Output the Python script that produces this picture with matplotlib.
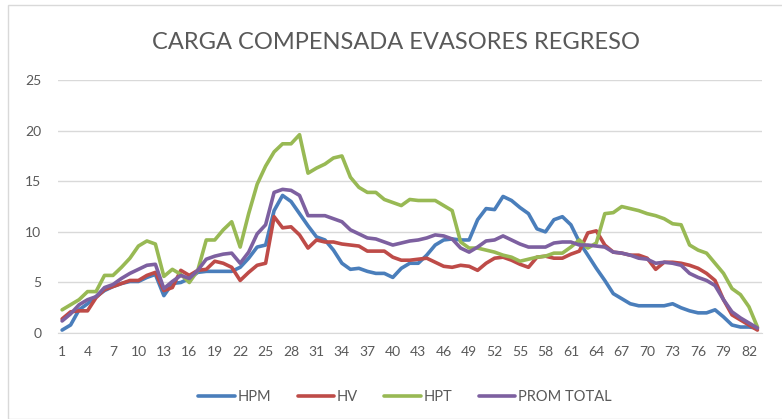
import numpy as np
import matplotlib
matplotlib.use("Agg")
import matplotlib.pyplot as plt
from matplotlib.patches import Rectangle

plt.rcParams['font.family'] = ['Lato', 'DejaVu Sans']

dias = list(range(1, 84))

hpm = [0.3, 0.8, 2.3, 2.9, 3.6, 4.2, 4.6, 4.9, 5.1, 5.1,
       5.5, 5.8, 3.7, 4.9, 5.0, 5.4, 6.0, 6.1, 6.1, 6.1,
       6.1, 6.5, 7.4, 8.5, 8.7, 12.1, 13.6, 13.0, 11.8, 10.6,
       9.5, 9.2, 8.2, 6.9, 6.3, 6.4, 6.1, 5.9, 5.9, 5.5,
       6.4, 6.9, 6.9, 7.7, 8.7, 9.2, 9.3, 9.2, 9.2, 11.2,
       12.3, 12.2, 13.5, 13.1, 12.4, 11.8, 10.3, 10.0, 11.2, 11.5,
       10.7, 9.0, 7.7, 6.4, 5.2, 3.9, 3.4, 2.9, 2.7, 2.7,
       2.7, 2.7, 2.9, 2.5, 2.2, 2.0, 2.0, 2.3, 1.6, 0.8,
       0.6, 0.6, 0.5]

hv = [1.4, 2.1, 2.2, 2.2, 3.5, 4.3, 4.6, 4.9, 5.2, 5.2,
      5.7, 6.0, 4.2, 4.5, 6.2, 5.7, 6.2, 6.3, 7.1, 6.9,
      6.5, 5.2, 6.0, 6.7, 6.9, 11.5, 10.4, 10.5, 9.7, 8.4,
      9.2, 9.0, 9.0, 8.8, 8.7, 8.6, 8.1, 8.1, 8.1, 7.5,
      7.2, 7.2, 7.3, 7.4, 7.0, 6.6, 6.5, 6.7, 6.6, 6.2,
      6.9, 7.4, 7.5, 7.2, 6.8, 6.5, 7.5, 7.6, 7.4, 7.4,
      7.8, 8.1, 9.9, 10.1, 8.7, 8.0, 7.9, 7.7, 7.7, 7.4,
      6.3, 7.0, 7.0, 6.9, 6.7, 6.4, 5.9, 5.2, 3.3, 1.8,
      1.3, 0.8, 0.3]

hpt = [2.3, 2.8, 3.3, 4.1, 4.1, 5.7, 5.7, 6.5, 7.4, 8.6,
       9.1, 8.8, 5.6, 6.3, 5.8, 5.0, 6.2, 9.2, 9.2, 10.2,
       11.0, 8.5, 11.8, 14.7, 16.5, 17.9, 18.7, 18.7, 19.6, 15.8,
       16.3, 16.7, 17.3, 17.5, 15.4, 14.4, 13.9, 13.9, 13.2, 12.9,
       12.6, 13.2, 13.1, 13.1, 13.1, 12.6, 12.1, 9.0, 8.4, 8.4,
       8.2, 8.0, 7.7, 7.5, 7.1, 7.3, 7.5, 7.6, 7.9, 7.9,
       8.5, 9.2, 8.4, 8.9, 11.8, 11.9, 12.5, 12.3, 12.1, 11.8,
       11.6, 11.3, 10.8, 10.7, 8.7, 8.2, 7.9, 6.9, 5.9, 4.4,
       3.8, 2.6, 0.6]

prom_total = [1.2, 1.9, 2.8, 3.3, 3.6, 4.5, 4.8, 5.4, 5.9, 6.3,
              6.7, 6.8, 4.4, 5.1, 5.7, 5.4, 6.2, 7.3, 7.6, 7.8,
              7.9, 6.9, 8.0, 9.8, 10.7, 13.9, 14.2, 14.1, 13.6, 11.6,
              11.6, 11.6, 11.3, 11.0, 10.2, 9.8, 9.4, 9.3, 9.0, 8.7,
              8.9, 9.1, 9.2, 9.4, 9.7, 9.6, 9.3, 8.4, 8.0, 8.5,
              9.1, 9.2, 9.6, 9.2, 8.8, 8.5, 8.5, 8.5, 8.9, 9.0,
              9.0, 8.7, 8.7, 8.6, 8.5, 8.0, 7.9, 7.7, 7.4, 7.3,
              6.9, 7.0, 6.9, 6.7, 5.9, 5.5, 5.2, 4.7, 3.3, 2.1,
              1.5, 1.0, 0.5]

series = [("HPM", hpm, "#4A7EBB"),
          ("HV", hv, "#BE4B48"),
          ("HPT", hpt, "#98B954"),
          ("PROM TOTAL", prom_total, "#7D60A0")]

fig = plt.figure(figsize=(7.82, 4.19), dpi=100)
ax = fig.add_axes([0.074, 0.205, 0.9, 0.604])

for nombre, valores, color in series:
    ax.plot(dias, valores, color=color, linewidth=2.6, label=nombre,
            solid_joinstyle='round', solid_capstyle='round')

ax.set_xlim(0.5, 83.5)
ax.set_ylim(0, 25)
ax.set_yticks(range(0, 26, 5))
ax.set_xticks(dias[::3])
ax.grid(axis='y', color='#D9D9D9', linewidth=1)
ax.set_axisbelow(True)
for lado in ['top', 'right', 'left']:
    ax.spines[lado].set_visible(False)
ax.spines['bottom'].set_color('#D9D9D9')
ax.tick_params(length=0, labelsize=10, colors='#595959')
ax.tick_params(axis='x', pad=9)
ax.tick_params(axis='y', pad=12)

fig.text(0.507, 0.898, 'CARGA COMPENSADA EVASORES REGRESO', ha='center', va='center',
         fontsize=17, color='#595959')

fig.legend(loc='center', bbox_to_anchor=(0.518, 0.053), ncol=4, frameon=False,
           fontsize=10.5, labelcolor='#595959', handlelength=2.5,
           handletextpad=0.2, columnspacing=1.8)

fig.patches.append(Rectangle((8 / 782, 0.0), 1.0, 1 - 5 / 419, transform=fig.transFigure,
                             fill=False, edgecolor='#D9D9D9', linewidth=1))

plt.savefig('out.png', dpi=100)
